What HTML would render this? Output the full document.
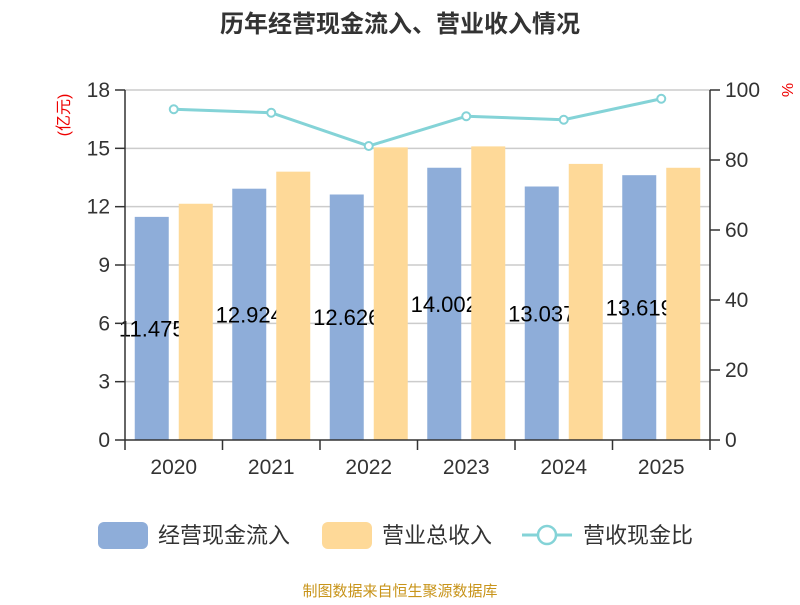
<!DOCTYPE html>
<html><head><meta charset="utf-8"><style>
body{margin:0;background:#fff}
svg text{font-family:"Liberation Sans","Noto Sans CJK SC",sans-serif}
</style></head><body>
<svg id="c" width="800" height="600" xmlns="http://www.w3.org/2000/svg">
<text x="400" y="32" text-anchor="middle" font-size="24" font-weight="bold" fill="#333">历年经营现金流入、营业收入情况</text>
<text transform="translate(69,115) rotate(-90)" text-anchor="middle" font-size="16" fill="#e00">(亿元)</text>
<text transform="translate(782,90) rotate(90)" text-anchor="middle" font-size="16" fill="#e00">%</text>
<g id="grid"></g><g id="bars1"></g><g id="labels"></g><g id="bars2"></g><g id="axes"></g><g id="line"></g>
<g>
<rect x="98" y="522" width="50" height="27" rx="6" fill="#8eadd9"/>
<text x="158" y="543" font-size="22" fill="#333">经营现金流入</text>
<rect x="322" y="522" width="50" height="27" rx="6" fill="#fed998"/>
<text x="382" y="543" font-size="22" fill="#333">营业总收入</text>
<line x1="522" y1="535" x2="572" y2="535" stroke="#84d3d7" stroke-width="3"/>
<circle cx="547" cy="535" r="9" fill="#fff" stroke="#84d3d7" stroke-width="2.5"/>
<text x="583" y="543" font-size="22" fill="#333">营收现金比</text>
</g>
<text x="400" y="596" text-anchor="middle" font-size="15" fill="#c8941a">制图数据来自恒生聚源数据库</text>
</svg>
<script>
const categories=["2020","2021","2022","2023","2024","2025"];
const cashInflow=[11.475,12.924,12.626,14.002,13.037,13.619];
const revenue=[12.15,13.8,15.05,15.1,14.2,14.0];
const ratio=[94.5,93.5,84,92.5,91.5,97.5];
const leftTicks=[0,3,6,9,12,15,18];
const rightTicks=[0,20,40,60,80,100];
const NS="http://www.w3.org/2000/svg";
const X0=125,X1=710,Y0=440,Y1=90;
const yL=v=>Y0-(v/18)*(Y0-Y1);
const yR=v=>Y0-(v/100)*(Y0-Y1);
const bw=(X1-X0)/categories.length;
const xc=i=>X0+bw*(i+0.5);
function mk(t,a,p){const e=document.createElementNS(NS,t);for(const k in a)e.setAttribute(k,a[k]);p.appendChild(e);return e;}
const grid=document.getElementById('grid'),axes=document.getElementById('axes');
leftTicks.forEach(v=>{
 const y=yL(v);
 if(v>0){const g=mk('line',{x1:X0,x2:X1,y1:y,y2:y,stroke:'#ccc','stroke-width':1.5},grid);
 
 }
 const t=mk('line',{x1:X0-10,x2:X0,y1:y,y2:y,stroke:'#333','stroke-width':1.5},axes);
 
 
 const l=mk('text',{x:X0-15,y:y+7,'text-anchor':'end','font-size':21,fill:'#333'},axes);l.textContent=v;
 
 
});
rightTicks.forEach(v=>{
 const y=yR(v);
 const t=mk('line',{x1:X1,x2:X1+10,y1:y,y2:y,stroke:'#333','stroke-width':1.5},axes);
 
 
 const l=mk('text',{x:X1+15,y:y+7,'font-size':21,fill:'#333'},axes);l.textContent=v;
 
 
});
[['left-axis',X0,Y1,X0,Y0],['right-axis',X1,Y1,X1,Y0],['x-axis',X0,Y0,X1,Y0]].forEach(a=>{
 const e=mk('line',{x1:a[1],y1:a[2],x2:a[3],y2:a[4],stroke:'#333','stroke-width':1.5},axes);
 
 
});
for(let i=0;i<=categories.length;i++){
 const x=X0+bw*i;
 const t=mk('line',{x1:x,x2:x,y1:Y0,y2:Y0+10,stroke:'#333','stroke-width':1.5},axes);
 
 
}
const b1=document.getElementById('bars1'),b2=document.getElementById('bars2'),lb=document.getElementById('labels');
const BW=34;
categories.forEach((c,i)=>{
 const l=mk('text',{x:xc(i),y:Y0+34,'text-anchor':'middle','font-size':21,fill:'#333'},axes);l.textContent=c;
 
 
 const r1=mk('rect',{x:xc(i)-39,y:yL(cashInflow[i]),width:BW,height:Y0-yL(cashInflow[i]),fill:'#8eadd9'},b1);
 
 
 const t=mk('text',{x:xc(i)-22,y:yL(cashInflow[i]/2)+8,'text-anchor':'middle','font-size':22,fill:'#000'},lb);t.textContent=cashInflow[i].toFixed(3);
 
 
 const r2=mk('rect',{x:xc(i)+5,y:yL(revenue[i]),width:BW,height:Y0-yL(revenue[i]),fill:'#fed998'},b2);
 
 
});
const lg=document.getElementById('line');
const pl=mk('polyline',{points:ratio.map((v,i)=>xc(i)+','+yR(v)).join(' '),fill:'none',stroke:'#84d3d7','stroke-width':3},lg);


ratio.forEach((v,i)=>{
 const p=mk('circle',{cx:xc(i),cy:yR(v),r:4,fill:'#fff',stroke:'#84d3d7','stroke-width':2},lg);
 
 
});
</script>
</body></html>
